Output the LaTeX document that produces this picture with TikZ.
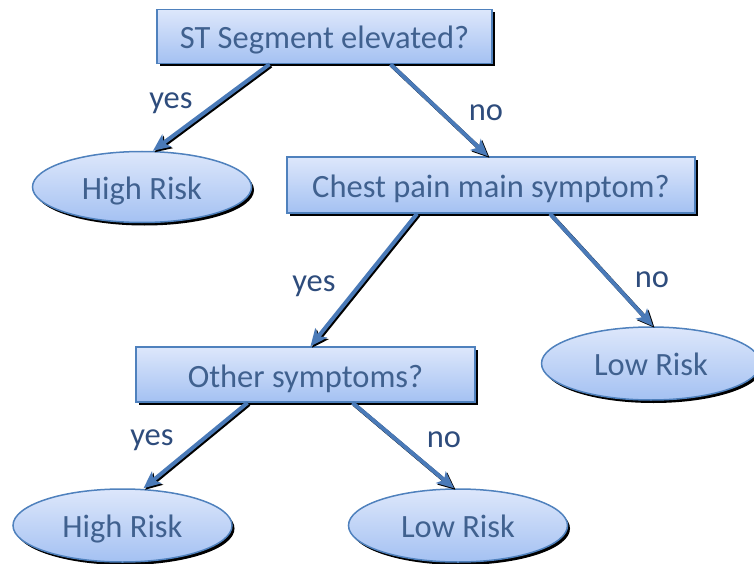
\documentclass[tikz,border=0pt]{standalone}
\usepackage{fontspec}
\setmainfont{Carlito}
\usetikzlibrary{shapes.geometric,arrows.meta,shadows}
\definecolor{boxtop}{HTML}{DDE7FB}
\definecolor{boxbot}{HTML}{A4C1F2}
\definecolor{edgeblue}{HTML}{4F81BD}
\definecolor{arrowblue}{HTML}{4A7AB8}
\definecolor{nodetext}{HTML}{40618F}
\definecolor{labeltext}{HTML}{2E4C7C}
\begin{document}
\begin{tikzpicture}[x=1pt,y=-1pt,
  every node/.style={font=\fontsize{32.5}{36}\selectfont},
  qbox/.style={rectangle, draw=edgeblue, line width=1.5pt, top color=boxtop, bottom color=boxbot,
    text=nodetext, inner sep=0pt, text height=25pt, text depth=0pt,
    drop shadow={shadow xshift=3pt, shadow yshift=-3pt, fill=black, opacity=1}},
  leaf/.style={ellipse, draw=edgeblue, line width=1.5pt, top color=boxtop, bottom color=boxbot,
    text=nodetext, inner sep=0pt, text height=24pt, text depth=0pt,
    minimum width=219pt, minimum height=71pt,
    drop shadow={shadow xshift=2.5pt, shadow yshift=-3pt, fill=black, opacity=1}},
  lbl/.style={text=labeltext, inner sep=0pt},
  conn/.style={draw=arrowblue, line width=4pt, -{Stealth[length=17pt,width=15pt,inset=4pt]},
    preaction={draw=black, line width=4pt, -{Stealth[length=17pt,width=15pt,inset=4pt]},
      transform canvas={xshift=1.5pt,yshift=-1.5pt}}}
]
\useasboundingbox (0,0) rectangle (754,564);

\node[qbox, minimum width=335pt, minimum height=54pt] (st) at (324.5,36.5) {ST Segment elevated?};
\node[qbox, minimum width=408pt, minimum height=56pt] (chest) at (491,185) {Chest pain main symptom?};
\node[qbox, minimum width=339pt, minimum height=55pt] (other) at (305.5,374.5) {Other symptoms?};

\node[leaf] (hr1) at (142,187) {High Risk};
\node[leaf, minimum height=73pt] (lr1) at (651,363.5) {Low Risk};
\node[leaf, minimum height=73pt] (hr2) at (122.5,525.5) {High Risk};
\node[leaf, minimum height=73pt] (lr2) at (458,525.5) {Low Risk};

\draw[conn] ([xshift=-55pt]st.south) -- ([xshift=11pt]hr1.north);
\draw[conn] ([xshift=66pt]st.south) -- ([xshift=-3pt]chest.north);
\draw[conn] ([xshift=-74pt]chest.south) -- ([xshift=5pt]other.north);
\draw[conn] ([xshift=59pt]chest.south) -- ([xshift=2pt]lr1.north);
\draw[conn] ([xshift=-58pt]other.south) -- ([xshift=21pt]hr2.north);
\draw[conn] ([xshift=47pt]other.south) -- ([xshift=-4pt]lr2.north);

\node[lbl] (y1) at (171,103) {yes};
\node[lbl] (n1) at (486,113) {no};
\node[lbl] (y2) at (314,286) {yes};
\node[lbl] (n2) at (652,280) {no};
\node[lbl] (y3) at (152,440) {yes};
\node[lbl] (n3) at (444,440) {no};
\end{tikzpicture}
\end{document}
